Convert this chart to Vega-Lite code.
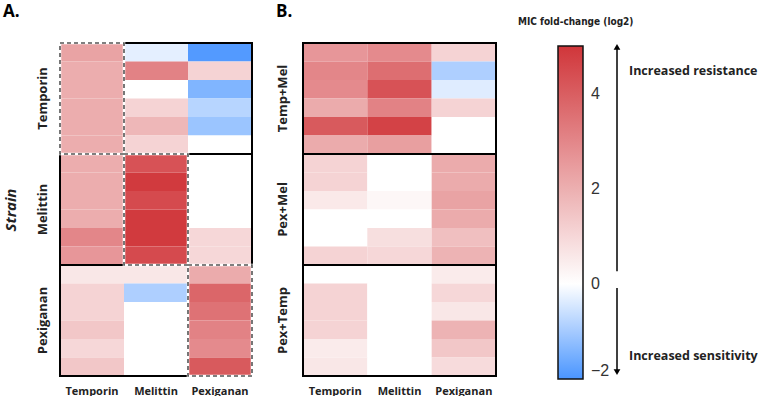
{
  "$schema": "https://vega.github.io/schema/vega-lite/v6.json",
  "padding": {"left": 2, "top": 2, "right": 0, "bottom": 0},
  "background": "white",
  "spacing": 21,
  "config": {
    "view": {"stroke": null},
    "font": "Open Sans",
    "axis": {"domain": false, "ticks": false, "tickSize": 0, "grid": false}
  },
  "resolve": {"scale": {"x": "independent", "y": "independent", "color": "shared"}},
  "datasets": {
    "cells": [
      {"p":"A","g":"Temporin","r":1,"c":"Temporin","v":2.3},
      {"p":"A","g":"Temporin","r":2,"c":"Temporin","v":2.05},
      {"p":"A","g":"Temporin","r":3,"c":"Temporin","v":2.05},
      {"p":"A","g":"Temporin","r":4,"c":"Temporin","v":2.05},
      {"p":"A","g":"Temporin","r":5,"c":"Temporin","v":2.05},
      {"p":"A","g":"Temporin","r":6,"c":"Temporin","v":2.05},
      {"p":"A","g":"Temporin","r":1,"c":"Melittin","v":-0.3},
      {"p":"A","g":"Temporin","r":2,"c":"Melittin","v":3.1},
      {"p":"A","g":"Temporin","r":3,"c":"Melittin","v":0},
      {"p":"A","g":"Temporin","r":4,"c":"Melittin","v":1.1},
      {"p":"A","g":"Temporin","r":5,"c":"Melittin","v":1.8},
      {"p":"A","g":"Temporin","r":6,"c":"Melittin","v":1.1},
      {"p":"A","g":"Temporin","r":1,"c":"Pexiganan","v":-1.9},
      {"p":"A","g":"Temporin","r":2,"c":"Pexiganan","v":1.1},
      {"p":"A","g":"Temporin","r":3,"c":"Pexiganan","v":-1.4},
      {"p":"A","g":"Temporin","r":4,"c":"Pexiganan","v":-0.8},
      {"p":"A","g":"Temporin","r":5,"c":"Pexiganan","v":-1.1},
      {"p":"A","g":"Temporin","r":6,"c":"Pexiganan","v":0},
      {"p":"A","g":"Melittin","r":1,"c":"Temporin","v":2.05},
      {"p":"A","g":"Melittin","r":2,"c":"Temporin","v":2.05},
      {"p":"A","g":"Melittin","r":3,"c":"Temporin","v":2.05},
      {"p":"A","g":"Melittin","r":4,"c":"Temporin","v":2.05},
      {"p":"A","g":"Melittin","r":5,"c":"Temporin","v":3.0},
      {"p":"A","g":"Melittin","r":6,"c":"Temporin","v":2.6},
      {"p":"A","g":"Melittin","r":1,"c":"Melittin","v":4.3},
      {"p":"A","g":"Melittin","r":2,"c":"Melittin","v":4.9},
      {"p":"A","g":"Melittin","r":3,"c":"Melittin","v":4.5},
      {"p":"A","g":"Melittin","r":4,"c":"Melittin","v":4.9},
      {"p":"A","g":"Melittin","r":5,"c":"Melittin","v":4.9},
      {"p":"A","g":"Melittin","r":6,"c":"Melittin","v":4.5},
      {"p":"A","g":"Melittin","r":1,"c":"Pexiganan","v":0},
      {"p":"A","g":"Melittin","r":2,"c":"Pexiganan","v":0},
      {"p":"A","g":"Melittin","r":3,"c":"Pexiganan","v":0},
      {"p":"A","g":"Melittin","r":4,"c":"Pexiganan","v":0},
      {"p":"A","g":"Melittin","r":5,"c":"Pexiganan","v":1.0},
      {"p":"A","g":"Melittin","r":6,"c":"Pexiganan","v":1.0},
      {"p":"A","g":"Pexiganan","r":1,"c":"Temporin","v":0.6},
      {"p":"A","g":"Pexiganan","r":2,"c":"Temporin","v":1.1},
      {"p":"A","g":"Pexiganan","r":3,"c":"Temporin","v":1.1},
      {"p":"A","g":"Pexiganan","r":4,"c":"Temporin","v":1.4},
      {"p":"A","g":"Pexiganan","r":5,"c":"Temporin","v":1.0},
      {"p":"A","g":"Pexiganan","r":6,"c":"Temporin","v":1.4},
      {"p":"A","g":"Pexiganan","r":1,"c":"Melittin","v":0.6},
      {"p":"A","g":"Pexiganan","r":2,"c":"Melittin","v":-0.9},
      {"p":"A","g":"Pexiganan","r":3,"c":"Melittin","v":0},
      {"p":"A","g":"Pexiganan","r":4,"c":"Melittin","v":0},
      {"p":"A","g":"Pexiganan","r":5,"c":"Melittin","v":0},
      {"p":"A","g":"Pexiganan","r":6,"c":"Melittin","v":0},
      {"p":"A","g":"Pexiganan","r":1,"c":"Pexiganan","v":2.1},
      {"p":"A","g":"Pexiganan","r":2,"c":"Pexiganan","v":3.8},
      {"p":"A","g":"Pexiganan","r":3,"c":"Pexiganan","v":3.5},
      {"p":"A","g":"Pexiganan","r":4,"c":"Pexiganan","v":3.1},
      {"p":"A","g":"Pexiganan","r":5,"c":"Pexiganan","v":2.9},
      {"p":"A","g":"Pexiganan","r":6,"c":"Pexiganan","v":4.1},
      {"p":"B","g":"Temp+Mel","r":1,"c":"Temporin","v":2.6},
      {"p":"B","g":"Temp+Mel","r":2,"c":"Temporin","v":3.0},
      {"p":"B","g":"Temp+Mel","r":3,"c":"Temporin","v":2.9},
      {"p":"B","g":"Temp+Mel","r":4,"c":"Temporin","v":2.1},
      {"p":"B","g":"Temp+Mel","r":5,"c":"Temporin","v":4.1},
      {"p":"B","g":"Temp+Mel","r":6,"c":"Temporin","v":2.1},
      {"p":"B","g":"Temp+Mel","r":1,"c":"Melittin","v":2.9},
      {"p":"B","g":"Temp+Mel","r":2,"c":"Melittin","v":3.6},
      {"p":"B","g":"Temp+Mel","r":3,"c":"Melittin","v":4.3},
      {"p":"B","g":"Temp+Mel","r":4,"c":"Melittin","v":3.1},
      {"p":"B","g":"Temp+Mel","r":5,"c":"Melittin","v":4.7},
      {"p":"B","g":"Temp+Mel","r":6,"c":"Melittin","v":2.4},
      {"p":"B","g":"Temp+Mel","r":1,"c":"Pexiganan","v":1.1},
      {"p":"B","g":"Temp+Mel","r":2,"c":"Pexiganan","v":-0.9},
      {"p":"B","g":"Temp+Mel","r":3,"c":"Pexiganan","v":-0.35},
      {"p":"B","g":"Temp+Mel","r":4,"c":"Pexiganan","v":1.1},
      {"p":"B","g":"Temp+Mel","r":5,"c":"Pexiganan","v":0},
      {"p":"B","g":"Temp+Mel","r":6,"c":"Pexiganan","v":0},
      {"p":"B","g":"Pex+Mel","r":1,"c":"Temporin","v":1.1},
      {"p":"B","g":"Pex+Mel","r":2,"c":"Temporin","v":1.1},
      {"p":"B","g":"Pex+Mel","r":3,"c":"Temporin","v":0.55},
      {"p":"B","g":"Pex+Mel","r":4,"c":"Temporin","v":0},
      {"p":"B","g":"Pex+Mel","r":5,"c":"Temporin","v":0},
      {"p":"B","g":"Pex+Mel","r":6,"c":"Temporin","v":1.1},
      {"p":"B","g":"Pex+Mel","r":1,"c":"Melittin","v":0},
      {"p":"B","g":"Pex+Mel","r":2,"c":"Melittin","v":0},
      {"p":"B","g":"Pex+Mel","r":3,"c":"Melittin","v":0.2},
      {"p":"B","g":"Pex+Mel","r":4,"c":"Melittin","v":0},
      {"p":"B","g":"Pex+Mel","r":5,"c":"Melittin","v":0.8},
      {"p":"B","g":"Pex+Mel","r":6,"c":"Melittin","v":1.0},
      {"p":"B","g":"Pex+Mel","r":1,"c":"Pexiganan","v":2.1},
      {"p":"B","g":"Pex+Mel","r":2,"c":"Pexiganan","v":2.1},
      {"p":"B","g":"Pex+Mel","r":3,"c":"Pexiganan","v":2.3},
      {"p":"B","g":"Pex+Mel","r":4,"c":"Pexiganan","v":2.1},
      {"p":"B","g":"Pex+Mel","r":5,"c":"Pexiganan","v":1.6},
      {"p":"B","g":"Pex+Mel","r":6,"c":"Pexiganan","v":1.9},
      {"p":"B","g":"Pex+Temp","r":1,"c":"Temporin","v":0},
      {"p":"B","g":"Pex+Temp","r":2,"c":"Temporin","v":1.1},
      {"p":"B","g":"Pex+Temp","r":3,"c":"Temporin","v":1.1},
      {"p":"B","g":"Pex+Temp","r":4,"c":"Temporin","v":1.1},
      {"p":"B","g":"Pex+Temp","r":5,"c":"Temporin","v":0.5},
      {"p":"B","g":"Pex+Temp","r":6,"c":"Temporin","v":0.6},
      {"p":"B","g":"Pex+Temp","r":1,"c":"Melittin","v":0},
      {"p":"B","g":"Pex+Temp","r":2,"c":"Melittin","v":0},
      {"p":"B","g":"Pex+Temp","r":3,"c":"Melittin","v":0},
      {"p":"B","g":"Pex+Temp","r":4,"c":"Melittin","v":0},
      {"p":"B","g":"Pex+Temp","r":5,"c":"Melittin","v":0},
      {"p":"B","g":"Pex+Temp","r":6,"c":"Melittin","v":0},
      {"p":"B","g":"Pex+Temp","r":1,"c":"Pexiganan","v":0.5},
      {"p":"B","g":"Pex+Temp","r":2,"c":"Pexiganan","v":1.0},
      {"p":"B","g":"Pex+Temp","r":3,"c":"Pexiganan","v":0.6},
      {"p":"B","g":"Pex+Temp","r":4,"c":"Pexiganan","v":1.9},
      {"p":"B","g":"Pex+Temp","r":5,"c":"Pexiganan","v":1.4},
      {"p":"B","g":"Pex+Temp","r":6,"c":"Pexiganan","v":0.9}
    ],
    "groupsA": [{"g":"Temporin"},{"g":"Melittin"},{"g":"Pexiganan"}],
    "groupsB": [{"g":"Temp+Mel"},{"g":"Pex+Mel"},{"g":"Pex+Temp"}],
    "diagA": [{"g":"Temporin","c":"Temporin"},{"g":"Melittin","c":"Melittin"},{"g":"Pexiganan","c":"Pexiganan"}],
    "arrows": [{"from":0.2,"to":4.92,"head":"triangle-up"},{"from":-0.15,"to":-1.92,"head":"triangle-down"}],
    "notes": [{"label":"Increased resistance","y":4.42},{"label":"Increased sensitivity","y":-1.58}]
  },
  "hconcat": [
    {
      "width": 192, "height": 333,
      "title": {"text": "A.", "anchor": "start", "frame": "bounds", "fontSize": 17, "fontWeight": "bold", "offset": 21, "font": "Open Sans"},
      "layer": [
        {
          "data": {"name": "cells"},
          "transform": [{"filter": "datum.p === 'A'"}],
          "mark": {"type": "rect"},
          "encoding": {
            "x": {"field": "c", "type": "nominal", "sort": ["Temporin","Melittin","Pexiganan"], "scale": {"paddingInner": 0, "paddingOuter": 0},
                  "axis": {"title": null, "labelAngle": 0, "labelFontWeight": "bold", "labelFontSize": 11, "labelPadding": 9, "labelColor": "#222"}},
            "y": {"field": "g", "type": "nominal", "sort": ["Temporin","Melittin","Pexiganan"], "scale": {"paddingInner": 0, "paddingOuter": 0},
                  "axis": {"title": "Strain", "titleFontStyle": "italic", "titleFontWeight": "bold", "titleFontSize": 15, "titlePadding": 18, "titleColor": "#222",
                           "labelAngle": -90, "labelFontWeight": "bold", "labelFontSize": 13, "labelPadding": 11, "labelColor": "#222"}},
            "yOffset": {"field": "r", "type": "ordinal", "scale": {"paddingInner": 0, "paddingOuter": 0}},
            "color": {"field": "v", "type": "quantitative",
                      "scale": {"domain": [-2, 0, 5], "range": ["#4a95ff", "#ffffff", "#d0363a"], "interpolate": "rgb"},
                      "legend": {"title": null, "orient": "none", "legendX": 498, "legendY": 3, "direction": "vertical",
                                 "gradientLength": 333, "gradientThickness": 25, "gradientStrokeColor": "#111", "gradientStrokeWidth": 1.5,
                                 "values": [-2, 0, 2, 4], "labelFontSize": 16, "labelFont": "Liberation Sans", "labelColor": "#333",
                                 "labelOffset": 8, "labelOverlap": false, "labelBaseline": "middle", "padding": 0}}
          }
        },
        {
          "data": {"name": "groupsA"},
          "mark": {"type": "rect", "fill": "transparent", "stroke": "black", "strokeWidth": 2},
          "encoding": {"y": {"field": "g", "type": "nominal", "sort": ["Temporin","Melittin","Pexiganan"]}}
        },
        {
          "data": {"name": "diagA"},
          "mark": {"type": "rect", "fill": "transparent", "stroke": "white", "strokeWidth": 2.5},
          "encoding": {"x": {"field": "c", "type": "nominal", "sort": ["Temporin","Melittin","Pexiganan"]},
                       "y": {"field": "g", "type": "nominal", "sort": ["Temporin","Melittin","Pexiganan"]}}
        },
        {
          "data": {"name": "diagA"},
          "mark": {"type": "rect", "fill": "transparent", "stroke": "#555", "strokeWidth": 1.6, "strokeDash": [4, 3]},
          "encoding": {"x": {"field": "c", "type": "nominal", "sort": ["Temporin","Melittin","Pexiganan"]},
                       "y": {"field": "g", "type": "nominal", "sort": ["Temporin","Melittin","Pexiganan"]}}
        }
      ]
    },
    {
      "width": 193, "height": 333,
      "title": {"text": "B.", "anchor": "start", "frame": "bounds", "fontSize": 17, "fontWeight": "bold", "offset": 21, "font": "Open Sans"},
      "layer": [
        {
          "data": {"name": "cells"},
          "transform": [{"filter": "datum.p === 'B'"}],
          "mark": {"type": "rect"},
          "encoding": {
            "x": {"field": "c", "type": "nominal", "sort": ["Temporin","Melittin","Pexiganan"], "scale": {"paddingInner": 0, "paddingOuter": 0},
                  "axis": {"title": null, "labelAngle": 0, "labelFontWeight": "bold", "labelFontSize": 11, "labelPadding": 9, "labelColor": "#222"}},
            "y": {"field": "g", "type": "nominal", "sort": ["Temp+Mel","Pex+Mel","Pex+Temp"], "scale": {"paddingInner": 0, "paddingOuter": 0},
                  "axis": {"title": null, "labelAngle": -90, "labelFontWeight": "bold", "labelFontSize": 13, "labelPadding": 14, "labelColor": "#222"}},
            "yOffset": {"field": "r", "type": "ordinal", "scale": {"paddingInner": 0, "paddingOuter": 0}},
            "color": {"field": "v", "type": "quantitative",
                      "scale": {"domain": [-2, 0, 5], "range": ["#4a95ff", "#ffffff", "#d0363a"], "interpolate": "rgb"},
                      "legend": {"title": null, "orient": "none", "legendX": 498, "legendY": 3, "direction": "vertical",
                                 "gradientLength": 333, "gradientThickness": 25, "gradientStrokeColor": "#111", "gradientStrokeWidth": 1.5,
                                 "values": [-2, 0, 2, 4], "labelFontSize": 16, "labelFont": "Liberation Sans", "labelColor": "#333",
                                 "labelOffset": 8, "labelOverlap": false, "labelBaseline": "middle", "padding": 0}}
          }
        },
        {
          "data": {"name": "groupsB"},
          "mark": {"type": "rect", "fill": "transparent", "stroke": "black", "strokeWidth": 2},
          "encoding": {"y": {"field": "g", "type": "nominal", "sort": ["Temp+Mel","Pex+Mel","Pex+Temp"]}}
        }
      ]
    },
    {
      "width": 198, "height": 333,
      "title": {"text": "MIC fold-change (log2)", "anchor": "start", "frame": "bounds", "fontSize": 10, "font": "Liberation Sans Narrow, DejaVu Sans Condensed", "fontWeight": "bold", "offset": 16, "color": "#222"},
      "layer": [
        {
          "data": {"name": "arrows"},
          "mark": {"type": "rule", "strokeWidth": 1.5, "color": "black"},
          "encoding": {"y": {"field": "from", "type": "quantitative", "scale": {"domain": [-2, 5], "nice": false, "zero": false}, "axis": null},
                       "y2": {"field": "to"}}
        },
        {
          "data": {"name": "arrows"},
          "mark": {"type": "point", "filled": true, "color": "black", "size": 45, "opacity": 1},
          "encoding": {"y": {"field": "to", "type": "quantitative"},
                       "shape": {"field": "head", "type": "nominal", "scale": null}}
        },
        {
          "data": {"name": "notes"},
          "mark": {"type": "text", "align": "left", "dx": 12, "fontSize": 12.5, "fontWeight": "bold", "font": "Open Sans", "color": "#222"},
          "encoding": {"y": {"field": "y", "type": "quantitative"}, "text": {"field": "label"}}
        }
      ]
    }
  ]
}
